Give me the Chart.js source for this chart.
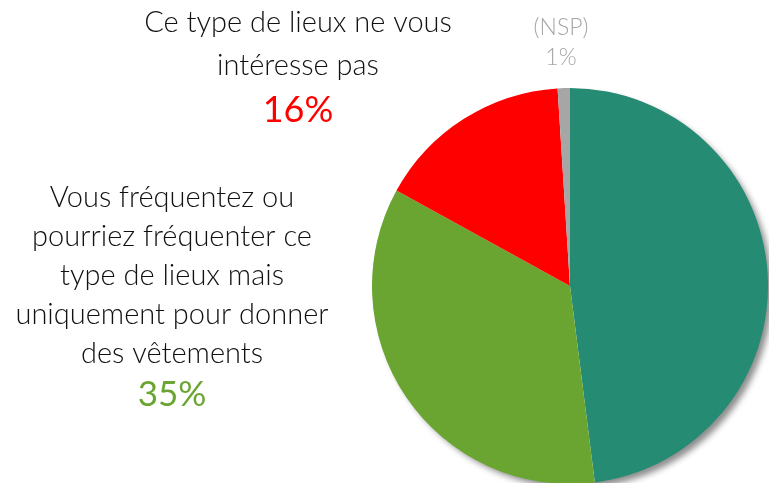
<!DOCTYPE html>
<html>
<head>
<meta charset="utf-8">
<script src="https://cdn.jsdelivr.net/npm/chart.js@4.4.1/dist/chart.umd.min.js"></script>
<style>
  html, body { margin: 0; padding: 0; background: #fff; overflow: hidden; }
  #wrap { position: relative; width: 769px; height: 485px; }
</style>
</head>
<body>
<div id="wrap"><canvas id="chart"></canvas></div>
<script>
const categories = [
  'Autre réponse',
  'Vous fréquentez ou pourriez fréquenter ce type de lieux mais uniquement pour donner des vêtements',
  'Ce type de lieux ne vous intéresse pas',
  '(NSP)'
]
const values = [48, 35, 16, 1]
const sliceColors = ['#268B73', '#6BA531', '#FF0000', '#A6A6A6']

// text blocks drawn next to the pie: lines, colour of the value, position
const labelBlocks = [
  { index: 2, lines: ['Ce type de lieux ne vous', 'intéresse pas'], x: 298, y: 32, step: 43, size: 29, valueSize: 36, valueWeight: 400, valueColor: '#FF0000', textColor: '#111' },
  { index: 3, lines: ['(NSP)'], x: 561, y: 35, step: 30, size: 23, valueSize: 23, valueWeight: 300, valueColor: '#A6A6A6', textColor: '#A6A6A6' },
  { index: 1, lines: ['Vous fréquentez ou', 'pourriez fréquenter ce', 'type de lieux mais', 'uniquement pour donner', 'des vêtements'], x: 172, y: 207, step: 39, size: 29, valueSize: 35, valueWeight: 400, valueColor: '#6BA531', textColor: '#111' }
]

const FONT = 'Lato, "Open Sans", sans-serif'

const shadowPlugin = {
  id: 'pieShadow',
  beforeDatasetsDraw (chart) {
    const arc = chart.getDatasetMeta(0).data[0]
    if (!arc) return
    const ctx = chart.ctx
    ctx.save()
    ctx.shadowColor = 'rgba(0,0,0,0.45)'
    ctx.shadowBlur = 6
    ctx.shadowOffsetX = 5
    ctx.shadowOffsetY = 5
    ctx.fillStyle = '#fff'
    ctx.beginPath()
    ctx.arc(arc.x, arc.y, arc.outerRadius - 1, 0, Math.PI * 2)
    ctx.fill()
    ctx.restore()
  }
}

const labelPlugin = {
  id: 'sideLabels',
  afterDraw (chart) {
    const ctx = chart.ctx
    ctx.save()
    ctx.textAlign = 'center'
    ctx.textBaseline = 'alphabetic'
    labelBlocks.forEach(b => {
      ctx.font = '300 ' + b.size + 'px ' + FONT
      ctx.fillStyle = b.textColor
      b.lines.forEach((line, i) => {
        ctx.fillText(line, b.x, b.y + i * b.step)
      })
      ctx.font = b.valueWeight + ' ' + b.valueSize + 'px ' + FONT
      ctx.fillStyle = b.valueColor
      const extra = b.valueSize > b.size ? 4 : 0
      ctx.fillText(values[b.index] + '%', b.x, b.y + b.lines.length * b.step + extra)
    })
    ctx.restore()
  }
}

// eslint-disable-next-line no-undef, no-unused-vars
const chart = new Chart(document.querySelector('#chart'), {
  type: 'pie',
  data: {
    labels: categories,
    datasets: [{
      data: values,
      backgroundColor: sliceColors,
      borderWidth: 0
    }]
  },
  options: {
    responsive: true,
    maintainAspectRatio: false,
    animation: false,
    layout: { padding: { left: 372, right: 1, top: 88, bottom: 1 } },
    plugins: {
      legend: { display: false },
      tooltip: { enabled: false }
    }
  },
  plugins: [shadowPlugin, labelPlugin]
})
</script>
</body>
</html>
